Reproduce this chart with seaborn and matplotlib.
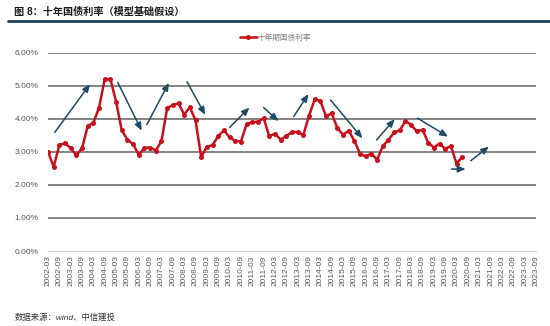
import matplotlib
matplotlib.use("Agg")
import matplotlib.pyplot as plt
import pandas as pd
import seaborn as sns

# Quarterly category axis, 2002-03 through 2023-09
quarters = [f"{y}-{m:02d}" for y in range(2002, 2024) for m in (3, 6, 9, 12)][:87]
tick_labels = quarters[::2]

# 10-year treasury yield (%), quarterly, 2002-03 .. 2020-06
yield_pct = [
    3.01, 2.54, 3.21, 3.26, 3.11, 2.90, 3.11, 3.78, 3.88, 4.34,
    5.20, 5.20, 4.52, 3.65, 3.37, 3.23, 2.91, 3.12, 3.13, 3.04,
    3.33, 4.32, 4.42, 4.47, 4.13, 4.35, 3.95, 2.84, 3.16, 3.20,
    3.48, 3.65, 3.44, 3.33, 3.31, 3.84, 3.90, 3.91, 4.02, 3.47,
    3.55, 3.37, 3.48, 3.60, 3.60, 3.51, 4.09, 4.59, 4.54, 4.07,
    4.17, 3.71, 3.52, 3.64, 3.33, 2.94, 2.86, 2.95, 2.76, 3.18,
    3.36, 3.59, 3.65, 3.94, 3.81, 3.62, 3.67, 3.28, 3.13, 3.25,
    3.09, 3.18, 2.64, 2.85,
]
y_ticks = [0, 1, 2, 3, 4, 5, 6]

# Trend arrows (start -> end) in (quarter index, yield %) coordinates
trend_arrows = [
    ((1.2, 3.59), (7.4, 5.05)),
    ((12.3, 5.10), (16.5, 3.64)),
    ((17.4, 3.82), (21.3, 5.09)),
    ((24.5, 5.12), (27.7, 4.12)),
    ((32.0, 3.74), (35.5, 4.34)),
    ((38.0, 4.34), (40.6, 3.93)),
    ((43.3, 4.07), (45.9, 4.75)),
    ((49.8, 4.57), (55.4, 3.41)),
    ((57.9, 3.36), (61.1, 3.99)),
    ((65.1, 4.02), (70.5, 3.46)),
    ((71.1, 2.48), (73.6, 2.48)),
    ((74.5, 2.73), (77.7, 3.16)),
]

series_name = "十年期国债利率"
df = pd.DataFrame({"idx": range(len(yield_pct)), "rate": yield_pct})

sns.set_theme(style="white")
plt.rcParams["font.family"] = ["Liberation Sans", "Noto Sans CJK SC", "DejaVu Sans"]

fig = plt.figure(figsize=(5.5, 3.26), dpi=100)
ax = fig.add_axes([48 / 550, 75 / 326, 488 / 550, 198.3 / 326])

sns.lineplot(data=df, x="idx", y="rate", ax=ax, color="#c8101c",
             linewidth=1.8, marker="o", markersize=3.6, markeredgewidth=0,
             label=series_name)

for (x0, y0), (x1, y1) in trend_arrows:
    ax.annotate("", xy=(x1, y1), xytext=(x0, y0),
                arrowprops=dict(arrowstyle="-|>,head_length=0.38,head_width=0.16",
                                color="#1e4a63", lw=1.1, shrinkA=0, shrinkB=0))

ax.set_xlim(0, len(quarters) - 1)
ax.set_ylim(0, 6)
ax.set_xticks(range(0, len(quarters), 2))
ax.set_xticklabels(tick_labels, rotation=90, fontsize=6, color="#595959")
ax.set_yticks(y_ticks)
ax.set_yticklabels([f"{v:.2f}%" for v in y_ticks], fontsize=6, color="#595959")
ax.tick_params(axis="both", length=0)
ax.tick_params(axis="x", pad=3)
ax.tick_params(axis="y", pad=7)
ax.set_xlabel("")
ax.set_ylabel("")

ax.yaxis.grid(True, color="#7a7a7a", linewidth=1.3)
ax.xaxis.grid(False)
ax.set_axisbelow(True)
for s in ("top", "left", "right"):
    ax.spines[s].set_visible(False)
ax.spines["bottom"].set_color("#d0d0d0")
ax.spines["bottom"].set_linewidth(1.0)
fig.canvas.draw()
ax.yaxis.get_gridlines()[0].set_visible(False)

ax.legend(loc="center left", bbox_to_anchor=(240 / 550, 1 - 38 / 326),
          bbox_transform=fig.transFigure, frameon=False, fontsize=5.5,
          handlelength=2.2, handletextpad=0.1, labelcolor="#7f7f7f",
          borderaxespad=0, borderpad=0)

fig.text(14 / 550, 1 - 12 / 326, "图 8：十年国债利率（模型基础假设）",
         fontsize=7.3, fontweight="bold", color="#1a1a1a", va="center", ha="left")
fig.add_artist(plt.Line2D([8 / 550, 1.0], [1 - 20.5 / 326, 1 - 20.5 / 326],
                          color="#1c3f5e", linewidth=2.0,
                          transform=fig.transFigure))
fig.text(15 / 550, 1 - 318 / 326, "数据来源：wind、中信建投",
         fontsize=6, style="italic", color="#333333", va="center", ha="left")

fig.savefig("out.png", dpi=100, facecolor="white")
